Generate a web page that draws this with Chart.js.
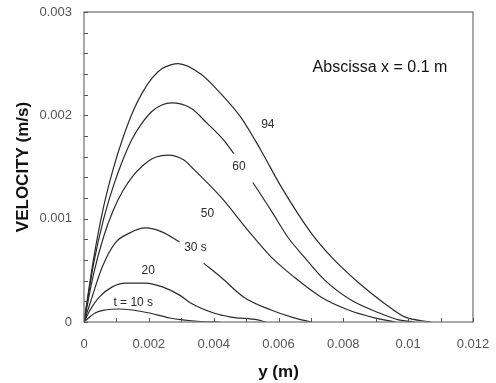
<!DOCTYPE html>
<html>
<head>
<meta charset="utf-8">
<script src="https://cdn.jsdelivr.net/npm/chart.js@4/dist/chart.umd.min.js"></script>
<style>
  html, body { margin: 0; padding: 0; background: #fff; }
  #wrap { width: 496px; height: 383px; }
</style>
</head>
<body>
<div id="wrap"><canvas id="chart"></canvas></div>
<script>
// y (m) positions for each time, null = gap left for the curve label
const y94 = [0, 0.0003, 0.0006, 0.0009, 0.0012, 0.0015, 0.0018, 0.0021, 0.0024, 0.0027, 0.0029, 0.0036, 0.00422, 0.00484, 0.00546, 0.00608, 0.00701, 0.00763, 0.00847, 0.00927, 0.00989, 0.0107];
const v94 = [0, 0.00062, 0.00111, 0.00148, 0.00178, 0.00203, 0.00222, 0.00236, 0.00245, 0.00249, 0.0025, 0.0024, 0.00221, 0.00198, 0.00166, 0.00131, 0.00086, 0.00063, 0.00038, 0.00018, 0.00005, 0];

const y60 = [0, 0.0003, 0.0006, 0.0009, 0.0012, 0.0015, 0.0018, 0.0021, 0.0024, 0.0027, 0.00329, 0.00381, 0.00431, 0.00462, 0.0049, 0.00521, 0.00577, 0.00629, 0.00679, 0.00741, 0.00825, 0.00909, 0.00971, 0.0102];
const v60 = [0, 0.00057, 0.00099, 0.00131, 0.00157, 0.00178, 0.00193, 0.00204, 0.0021, 0.00212, 0.00207, 0.00192, 0.00176, 0.00163, null, 0.00135, 0.00108, 0.00082, 0.00063, 0.00041, 0.00021, 0.00009, 0.00002, 0];

const y50 = [0, 0.0003, 0.0006, 0.0009, 0.0012, 0.0015, 0.0018, 0.0021, 0.0024, 0.0026, 0.00307, 0.00338, 0.00422, 0.00505, 0.00577, 0.00648, 0.00732, 0.00816, 0.00896, 0.0096];
const v50 = [0, 0.00047, 0.00082, 0.00108, 0.00127, 0.00141, 0.00151, 0.00158, 0.00161, 0.001615, 0.00157, 0.00148, 0.00121, 0.00089, 0.00063, 0.000435, 0.00024, 0.000116, 0.00004, 0];

const y30 = [0, 0.00019, 0.00056, 0.00096, 0.0014, 0.00189, 0.00242, 0.00295, 0.0033, 0.00369, 0.00422, 0.00493, 0.00577, 0.00648, 0.007];
const v30 = [0, 0.000184, 0.00053, 0.000764, 0.00086, 0.00091, 0.00087, 0.000774, null, 0.00057, 0.000435, 0.00024, 0.000116, 0.00004, 0];

const y20 = [0, 0.00019, 0.00047, 0.00087, 0.00127, 0.00189, 0.00242, 0.00295, 0.00329, 0.004, 0.00453, 0.00536, 0.0056];
const v20 = [0, 0.000116, 0.00024, 0.00034, 0.000377, 0.000377, 0.00034, 0.00026, 0.000184, 0.000087, 0.000048, 0.00002, 0];

const y10 = [0, 0.00034, 0.00065, 0.00105, 0.00149, 0.00202, 0.00264, 0.00304, 0.0036, 0.0042];
const v10 = [0, 0.000087, 0.000116, 0.000126, 0.000116, 0.000087, 0.000039, 0.00002, 0.000005, 0];

const curveX = [y94, y60, y50, y30, y20, y10];
const curveV = [v94, v60, v50, v30, v20, v10];

// curve labels and where they sit (data units)
const curveLabels = ['94', '60', '50', '30 s', '20', 't = 10 s'];
const labelX = [0.00567, 0.00478, 0.00381, 0.00344, 0.00198, 0.00152];
const labelV = [0.001905, 0.0015, 0.001045, 0.000716, 0.0005, 0.000184];

const xTicks = [0, 0.002, 0.004, 0.006, 0.008, 0.01, 0.012];
const xTickLabels = ['0', '0.002', '0.004', '0.006', '0.008', '0.01', '0.012'];
const yTicks = [0, 0.001, 0.002, 0.003];
const yTickLabels = ['0', '0.001', '0.002', '0.003'];

const note = 'Abscissa x = 0.1 m';

const datasets = curveX.map((xs, k) => ({
  data: xs.map((x, i) => ({ x: x, y: curveV[k][i] })),
  borderColor: '#2b2b2b',
  borderWidth: 1.2,
  pointRadius: 0,
  fill: false,
  spanGaps: false,
  cubicInterpolationMode: 'monotone'
}));

// frame, inner tick marks, curve labels, note
const decor = {
  id: 'decor',
  afterDatasetsDraw(chart) {
    const { ctx, chartArea: a, scales: { x, y } } = chart;
    ctx.save();
    ctx.strokeStyle = '#7a7a7a';
    ctx.lineWidth = 1.3;
    ctx.strokeRect(a.left, a.top, a.right - a.left, a.bottom - a.top);

    ctx.lineWidth = 1;
    ctx.strokeStyle = '#555';
    ctx.beginPath();
    for (let v = 0; v <= 0.0120001; v += 0.001) {
      const px = Math.round(x.getPixelForValue(v)) + 0.5;
      ctx.moveTo(px, a.bottom);
      ctx.lineTo(px, a.bottom - 4);
    }
    for (let v = 0; v <= 0.0030001; v += 0.0002) {
      const py = Math.round(y.getPixelForValue(v)) + 0.5;
      ctx.moveTo(a.left, py);
      ctx.lineTo(a.left + 4, py);
    }
    ctx.stroke();

    ctx.fillStyle = '#2b2b2b';
    ctx.font = '12px "Liberation Sans", Arial, sans-serif';
    ctx.textAlign = 'center';
    ctx.textBaseline = 'middle';
    curveLabels.forEach((t, i) => {
      ctx.fillText(t, x.getPixelForValue(labelX[i]), y.getPixelForValue(labelV[i]));
    });

    ctx.font = '16px "Liberation Sans", Arial, sans-serif';
    ctx.fillStyle = '#111';
    ctx.fillText(note, x.getPixelForValue(0.00913), y.getPixelForValue(0.00246));
    ctx.restore();
  }
};

new Chart(document.getElementById('chart'), {
  type: 'line',
  data: { datasets: datasets },
  options: {
    responsive: true,
    maintainAspectRatio: false,
    animation: false,
    layout: { padding: { left: 0, right: 23, top: 12, bottom: 0 } },
    plugins: { legend: { display: false }, tooltip: { enabled: false } },
    scales: {
      x: {
        type: 'linear',
        min: 0,
        max: 0.012,
        afterBuildTicks: s => { s.ticks = xTicks.map(v => ({ value: v })); },
        afterFit: s => { s.height = 61; s.paddingLeft = 0; s.paddingRight = 0; },
        grid: { display: false, drawTicks: false },
        border: { display: false },
        ticks: {
          padding: 15,
          color: '#555',
          font: { family: '"Liberation Sans", Arial', size: 13 },
          maxRotation: 0,
          callback: (v, i) => xTickLabels[i]
        },
        title: {
          display: true,
          text: 'y (m)',
          color: '#111',
          font: { family: '"Liberation Sans", Arial', size: 17, weight: 'bold' },
          padding: { top: 0, bottom: 0 }
        }
      },
      y: {
        type: 'linear',
        min: 0,
        max: 0.003,
        afterBuildTicks: s => { s.ticks = yTicks.map(v => ({ value: v })); },
        afterFit: s => { s.width = 84; s.paddingTop = 0; s.paddingBottom = 0; },
        grid: { display: false, drawTicks: false },
        border: { display: false },
        ticks: {
          padding: 12,
          color: '#555',
          font: { family: '"Liberation Sans", Arial', size: 13 },
          callback: (v, i) => yTickLabels[i]
        },
        title: {
          display: true,
          text: 'VELOCITY (m/s)',
          color: '#111',
          font: { family: '"Liberation Sans", Arial', size: 17, weight: 'bold' },
          padding: { top: 13, bottom: 0 }
        }
      }
    }
  },
  plugins: [decor]
});
</script>
</body>
</html>
